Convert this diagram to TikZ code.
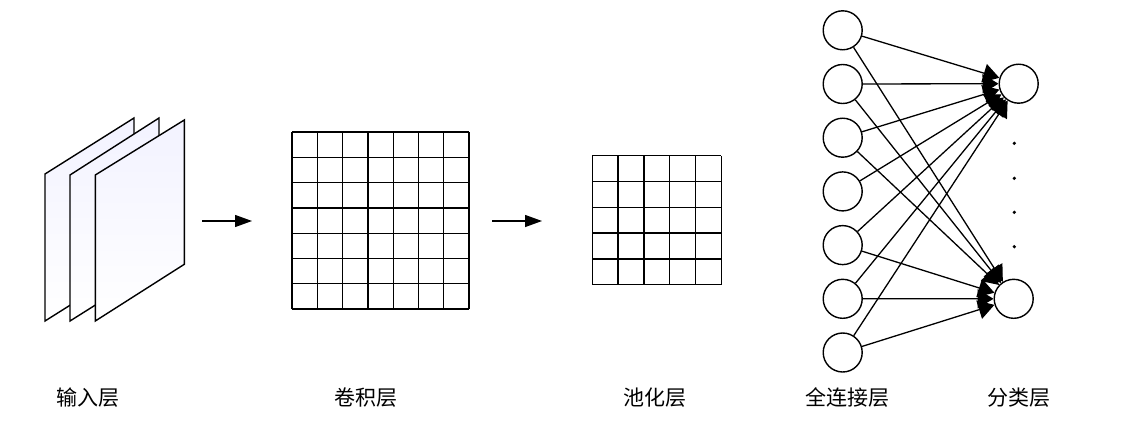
\documentclass[tikz,border=0pt]{standalone}
\usepackage{fontspec}
\newfontfamily\cjk{Noto Sans CJK SC}
\usetikzlibrary{arrows.meta,positioning}

\begin{document}
\begin{tikzpicture}[x=1pt, y=-1pt, node distance={53.7pt}, line width=1.3pt,
    main/.style = {draw, circle, minimum size=39pt, inner sep=0pt, line width=1.4pt},
    lbl/.style = {font=\cjk\fontsize{21}{21}\selectfont},
    plane/.style = {draw, line width=1.4pt, shading=axis, shading angle=120, top color=blue!5, bottom color=white},
    flow/.style = {-{Triangle[length=17pt,width=12pt]}},
    conn/.style = {-{Triangle[length=16pt,width=19pt]}}]
			\useasboundingbox (0,0) rectangle (1138,436);
			% input planes
			\draw[plane] (45,174) -- (45,321) -- (134,265) -- (134,118) -- cycle;
			\draw[plane] (70,175) -- (70,321) -- (159,265) -- (159,118) -- cycle;
			\draw[plane] (95.3,175) -- (95.3,321) -- (184.3,264.3) -- (184.3,120) -- cycle;
			% convolution and pooling grids
			\begin{scope}[shift={(292,132)}]
				\draw (0,177.2) grid[step=25.3pt] (177.2,0);
			\end{scope}
			\begin{scope}[shift={(592.3,155.7)}]
				\draw (0,129.1) grid[step=25.8pt] (129.1,0);
			\end{scope}
			\coordinate (a1) at (202,221);
			\coordinate (a2) at (252,221);
			\coordinate (b1) at (492,221);
			\coordinate (b2) at (542,221);
			\draw[flow] (a1) -- (a2);
			\draw[flow] (b1) -- (b2);
			% fully connected layer
			\node[main] (i1) at (842.7,30.3) {};
			\node[main] (i2) [below of=i1] {};
			\node[main] (i3) [below of=i2] {};
			\node[main] (i4) [below of=i3] {};
			\node[main] (i5) [below of=i4] {};
			\node[main] (i6) [below of=i5] {};
			\node[main] (i7) [below of=i6] {};
			\node[main] (o1) at (1018.7,83.7) {};
			\node[main] (o2) at (1013.7,298.8) {};
			\draw[conn] (i1) -- (o1);
			\draw[conn] (i2) -- (o1);
			\draw[conn] (i3) -- (o1);
			\draw[conn] (i4) -- (o1);
			\draw[conn] (i5) -- (o1);
			\draw[conn] (i6) -- (o1);
			\draw[conn] (i7) -- (o1);
			\draw[conn] (i1) -- (o2);
			\draw[conn] (i2) -- (o2);
			\draw[conn] (i3) -- (o2);
			\draw[conn] (i5) -- (o2);
			\draw[conn] (i6) -- (o2);
			\draw[conn] (i7) -- (o2);
			\fill (1014.3,143.3) circle (1.8pt);
			\fill (1014.3,178.3) circle (1.8pt);
			\fill (1014.3,212.3) circle (1.8pt);
			\fill (1014.3,246.7) circle (1.8pt);
			% labels
			\node[lbl] (l1) at (88,397.5) {输入层};
			\node[lbl] (l2) at (365.8,397.5) {卷积层};
			\node[lbl] (l3) at (654.7,397.5) {池化层};
			\node[lbl] (l4) at (847,397.5) {全连接层};
			\node[lbl] (l5) at (1018.5,397.5) {分类层};
		\end{tikzpicture}
\end{document}
